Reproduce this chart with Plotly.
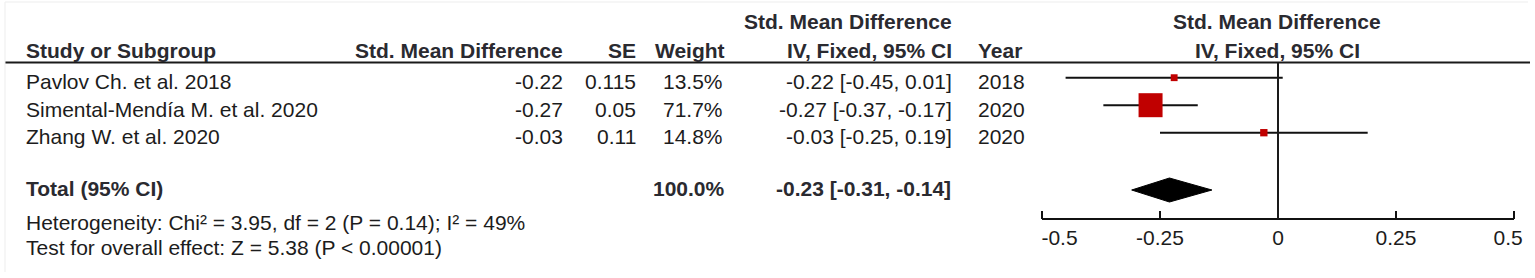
import plotly.graph_objects as go

# ---------------- data ----------------
studies = ["Pavlov Ch. et al. 2018", "Simental-Mendía M. et al. 2020", "Zhang W. et al. 2020"]
smd = [-0.22, -0.27, -0.03]
se = [0.115, 0.05, 0.11]
weight = [13.5, 71.7, 14.8]
ci_lo = [-0.45, -0.37, -0.25]
ci_hi = [0.01, -0.17, 0.19]
years = [2018, 2020, 2020]

total_est = -0.23
total_lo = -0.31
total_hi = -0.14
total_weight = 100.0

heterogeneity = "Heterogeneity: Chi² = 3.95, df = 2 (P = 0.14); I² = 49%"
overall = "Test for overall effect: Z = 5.38 (P < 0.00001)"

tick_vals = [-0.5, -0.25, 0, 0.25, 0.5]
tick_text = ["-0.5", "-0.25", "0", "0.25", "0.5"]

# ---------------- layout helpers ----------------
W, H = 1535, 278
ROW0_PX = 77.7      # pixel of first study row
ROW_PX = 27.5       # pixel height of one row


def py(p):
    """pixel (from top) -> row units on the y axis"""
    return (p - ROW0_PX) / ROW_PX


def px(p):
    return p / W


TOTAL_ROW = py(190)
AXIS_PX = 219
TEXT_DY = 3.8 / ROW_PX

FAM = "Liberation Sans, Arial, sans-serif"
REG = dict(family=FAM, size=21, color="#1c1c1c")
BOLD = dict(family=FAM, size=21, color="#2a2a30")

# column positions (pixels)
X_STUDY = 24
X_SMD = 565
X_SE = 638
X_W = 727
X_CI = 954
X_YEAR = 976
X_PLOT_C = 1277

fig = go.Figure()

# CI lines and squares
for i in range(len(studies)):
    fig.add_trace(go.Scatter(x=[ci_lo[i], ci_hi[i]], y=[i, i], mode="lines",
                             line=dict(color="#111111", width=2),
                             hoverinfo="skip", showlegend=False))
max_w = max(weight)
sizes = [24 * (w / max_w) ** 0.75 for w in weight]
fig.add_trace(go.Scatter(x=smd, y=list(range(len(studies))), mode="markers",
                         marker=dict(symbol="square", size=sizes, color="#C00000",
                                     opacity=1, line=dict(width=0)),
                         hoverinfo="skip", showlegend=False))

# diamond for total
dh = 12 / ROW_PX
fig.add_trace(go.Scatter(x=[total_lo, total_est, total_hi, total_est, total_lo],
                         y=[TOTAL_ROW, TOTAL_ROW - dh, TOTAL_ROW, TOTAL_ROW + dh, TOTAL_ROW],
                         mode="lines", fill="toself", fillcolor="#000000",
                         line=dict(color="#000000", width=1),
                         hoverinfo="skip", showlegend=False))

# empty trace so the tick-only overlay axis exists
fig.add_trace(go.Scatter(x=[], y=[], xaxis="x2", yaxis="y", mode="markers",
                         hoverinfo="skip", showlegend=False))

shapes = [
    # header separator
    dict(type="line", xref="paper", yref="y", x0=px(5), x1=px(1530),
         y0=py(62.5), y1=py(62.5), line=dict(color="#1a1a1a", width=2)),
    # line of no effect
    dict(type="line", xref="x", yref="y", x0=0, x1=0,
         y0=py(62.5), y1=py(AXIS_PX), line=dict(color="#1a1a1a", width=2)),
    # faint frame
    dict(type="line", xref="paper", yref="y", x0=px(5), x1=px(1528),
         y0=py(2), y1=py(2), line=dict(color="#ededed", width=1)),
    dict(type="line", xref="paper", yref="y", x0=px(5), x1=px(5),
         y0=py(2), y1=py(272), line=dict(color="#ededed", width=1)),
]

ann = []


def add(text, xpix, ypix=None, yrow=None, anchor="left", font=REG):
    y = yrow if yrow is not None else py(ypix)
    ann.append(dict(text=text, x=px(xpix), y=y, xref="paper", yref="y",
                    xanchor=anchor, yanchor="middle", showarrow=False, font=font))


# headers
add("<b>Std. Mean Difference</b>", X_CI, 21.5, anchor="right", font=BOLD)
add("<b>Std. Mean Difference</b>", X_PLOT_C, 21.5, anchor="center", font=BOLD)
add("<b>Study or Subgroup</b>", X_STUDY, 50, font=BOLD)
add("<b>Std. Mean Difference</b>", X_SMD, 50, anchor="right", font=BOLD)
add("<b>SE</b>", X_SE, 50, anchor="right", font=BOLD)
add("<b>Weight</b>", X_W, 50, anchor="right", font=BOLD)
add("<b>IV, Fixed, 95% CI</b>", X_CI, 50, anchor="right", font=BOLD)
add("<b>Year</b>", X_YEAR, 50, font=BOLD)
add("<b>IV, Fixed, 95% CI</b>", X_PLOT_C, 50, anchor="center", font=BOLD)

# study rows
for i in range(len(studies)):
    yr = i + TEXT_DY
    add(studies[i], X_STUDY, yrow=yr)
    add(f"{smd[i]:.2f}", X_SMD, yrow=yr, anchor="right")
    add(str(se[i]), X_SE, yrow=yr, anchor="right")
    add(f"{weight[i]:.1f}%", X_W - 2, yrow=yr, anchor="right")
    add(f"{smd[i]:.2f} [{ci_lo[i]:.2f}, {ci_hi[i]:.2f}]", X_CI, yrow=yr, anchor="right")
    add(str(years[i]), X_YEAR, yrow=yr)

# total
add("<b>Total (95% CI)</b>", X_STUDY, 188, font=BOLD)
add(f"<b>{total_weight:.1f}%</b>", X_W, 188, anchor="right", font=BOLD)
add(f"<b>{total_est:.2f} [{total_lo:.2f}, {total_hi:.2f}]</b>", X_CI - 1, 188, anchor="right", font=BOLD)
add(heterogeneity, X_STUDY, 222.5)
add(overall, X_STUDY, 247)

# end tick labels sit inside the axis span, as in the original
NB = "\u00a0"
tick_disp = list(tick_text)
tick_disp[0] = NB * 6 + tick_disp[0]
tick_disp[-1] = tick_disp[-1] + NB * 2

AX_POS = (H - AXIS_PX) / H
fig.update_layout(
    width=W, height=H,
    margin=dict(l=0, r=0, t=0, b=0, autoexpand=False),
    paper_bgcolor="white", plot_bgcolor="white",
    showlegend=False,
    shapes=shapes, annotations=ann,
    xaxis=dict(domain=[px(1042), px(1514)], range=[-0.5, 0.5],
               anchor="free", position=AX_POS, side="bottom",
               showline=True, linecolor="#111111", linewidth=2,
               ticks="", tickvals=tick_vals, ticktext=tick_disp,
               ticklabeloverflow="allow",
               tickfont=dict(family=FAM, size=21, color="#1c1c1c"),
               showgrid=False, zeroline=False, fixedrange=True, automargin=False),
    xaxis2=dict(overlaying="x", range=[-0.5, 0.5],
                anchor="free", position=AX_POS, side="top",
                showline=False, ticks="outside", ticklen=8, tickwidth=2,
                tickcolor="#111111", tickvals=tick_vals, showticklabels=False,
                showgrid=False, zeroline=False, fixedrange=True, automargin=False),
    yaxis=dict(domain=[0, 1], range=[py(H), py(0)], visible=False,
               showgrid=False, zeroline=False, fixedrange=True, automargin=False),
)

fig.write_html("out.html",
               config={"displayModeBar": False, "responsive": False},
               post_script="document.body.style.margin='0';document.body.style.padding='0';"
                           "document.body.style.overflow='hidden';")
